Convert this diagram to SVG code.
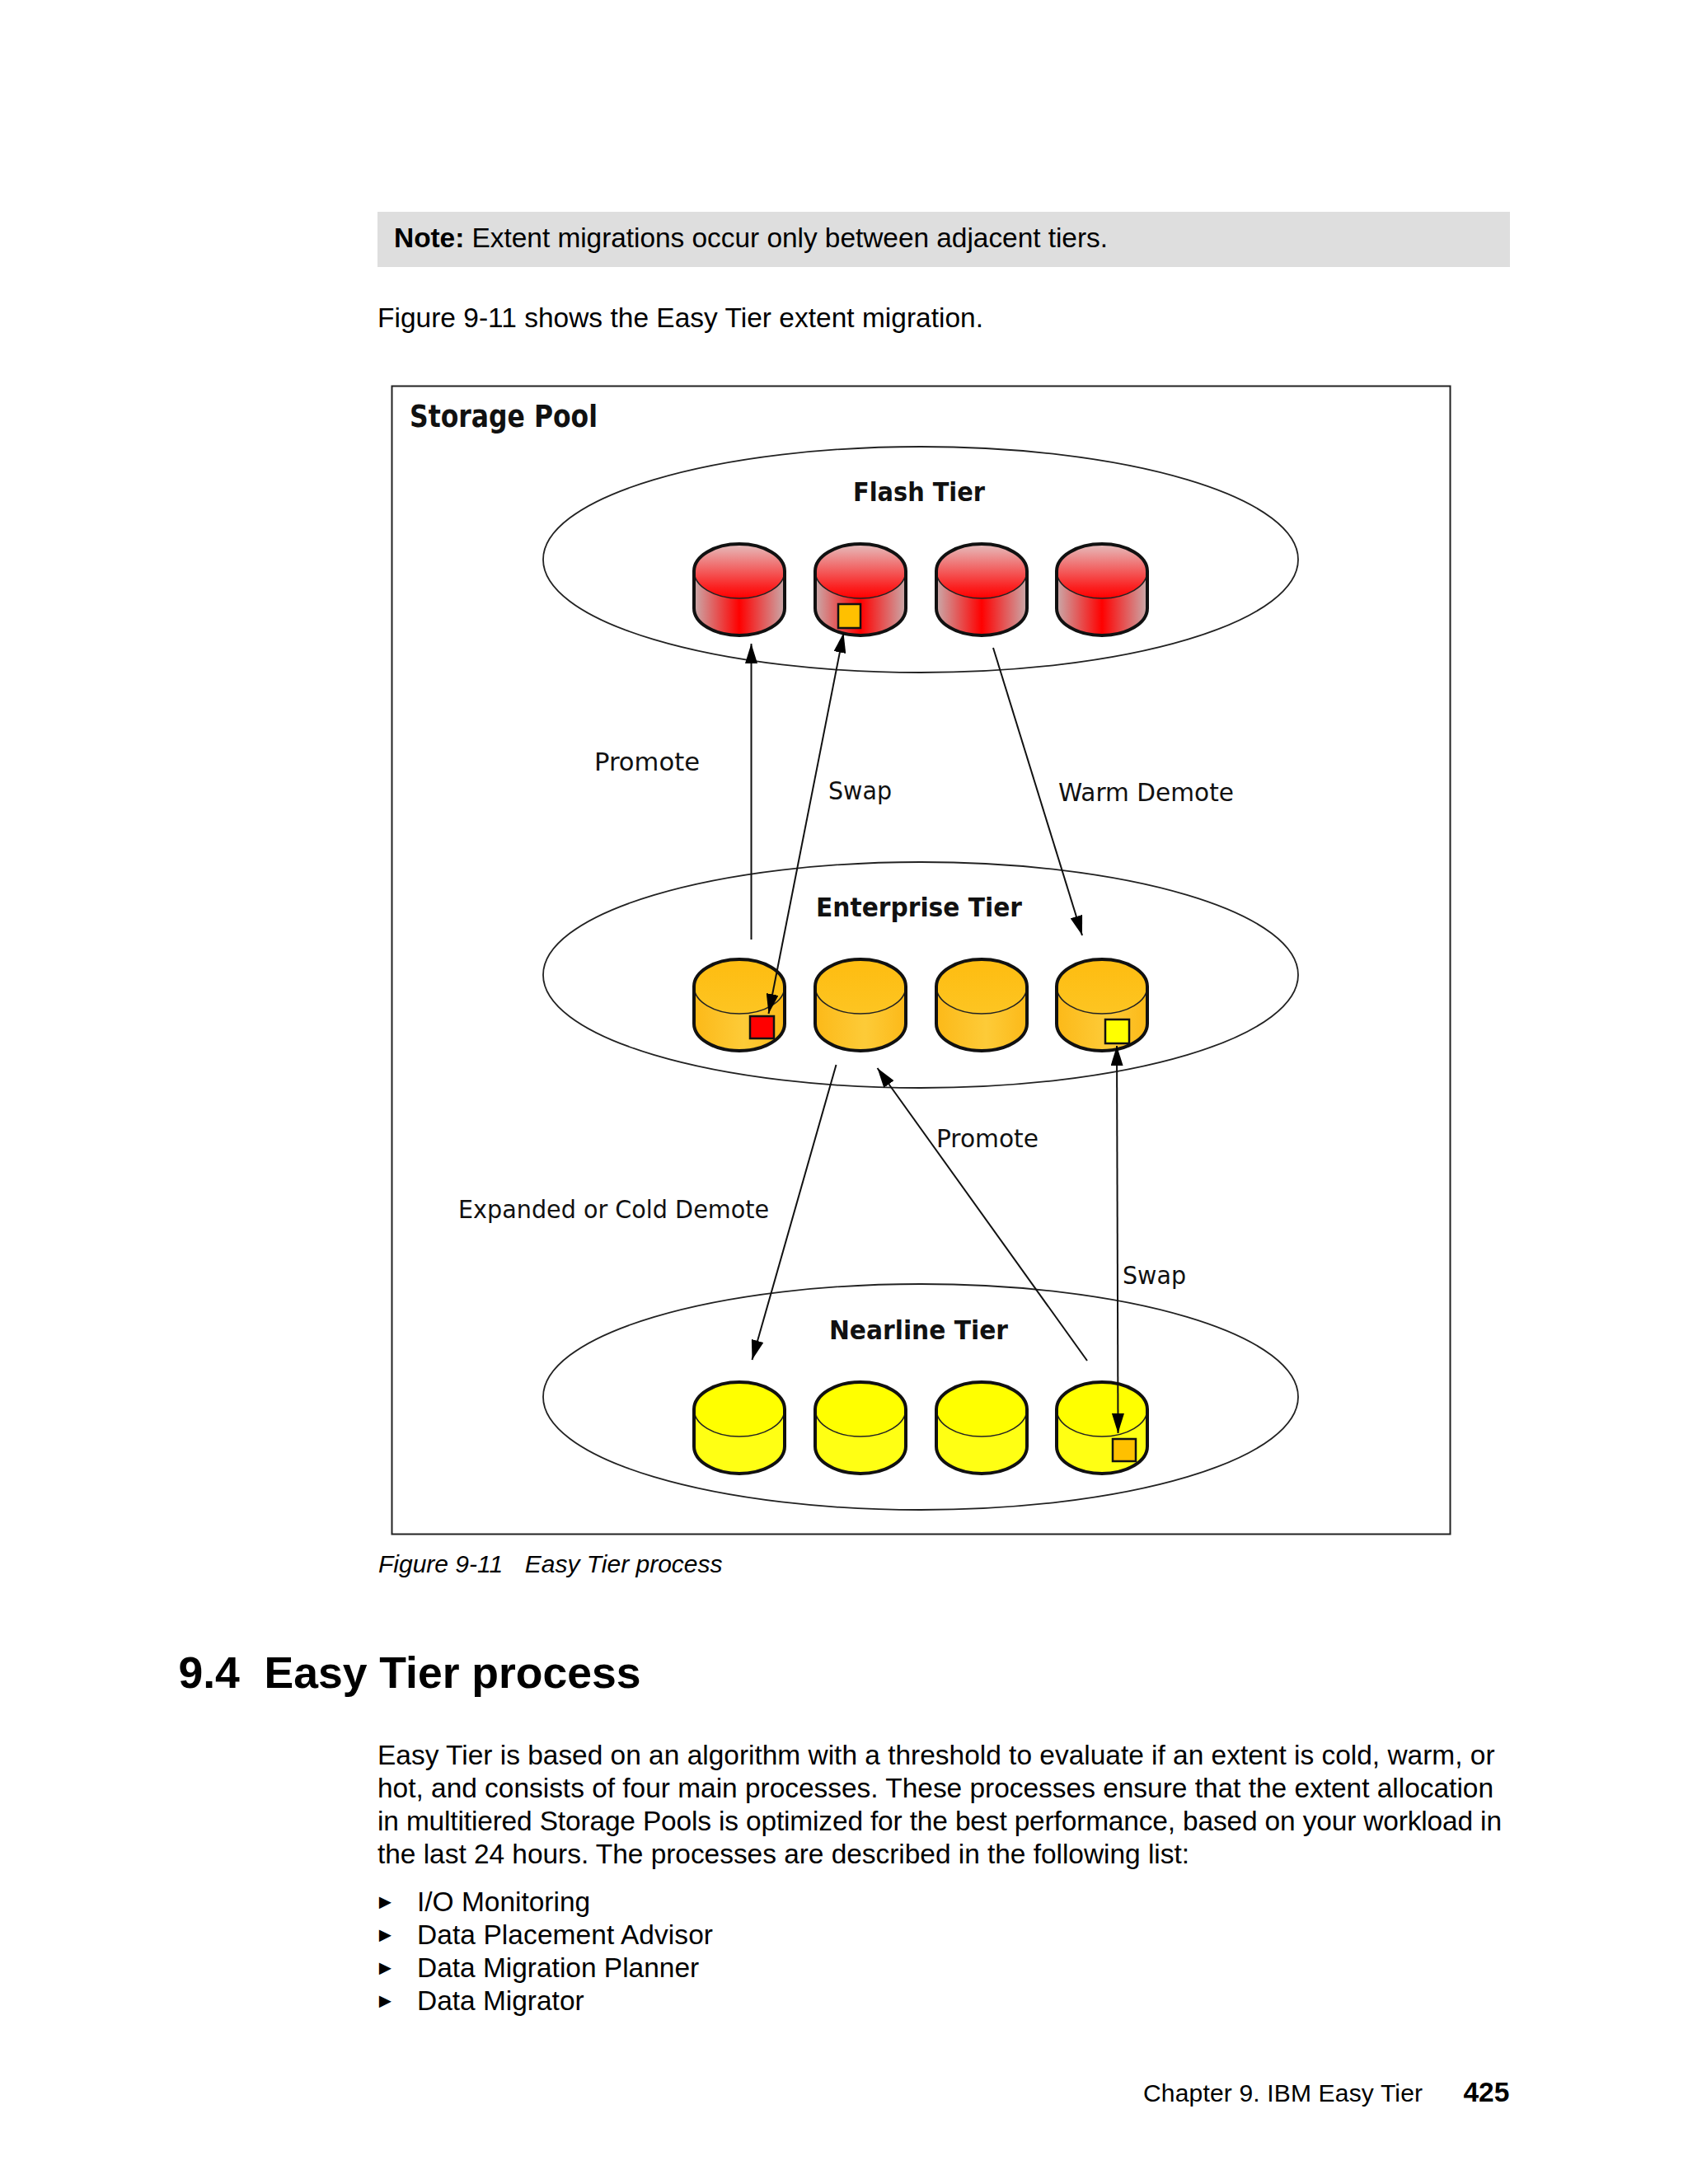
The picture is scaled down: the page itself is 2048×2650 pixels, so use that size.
<svg xmlns="http://www.w3.org/2000/svg" xmlns:xlink="http://www.w3.org/1999/xlink" width="2048" height="2650" viewBox="0 0 2048 2650">
<style>
text{font-family:"Liberation Sans",Arial,sans-serif;fill:#000;white-space:pre}
.b{font-size:33.46px}
.h{font-size:53.5px;font-weight:700}
.l{font-family:"DejaVu Sans",Verdana,sans-serif;font-size:30px;fill:#111}
.t{font-family:"DejaVu Sans",Verdana,sans-serif;font-weight:700;font-size:32px;fill:#111}
.tier{fill:#fff;stroke:#222;stroke-width:1.8}
.o{fill:none;stroke:#111;stroke-width:4}
.e{stroke:#222;stroke-width:1.6}
.s{stroke:#111;stroke-width:2.5}
.m{font-size:25px}
</style>
<defs>
<marker id="ah" markerUnits="userSpaceOnUse" markerWidth="24" markerHeight="15" refX="24" refY="7.500" orient="auto-start-reverse" viewBox="0 0 24 15"><path d="M0 0L24 7.500L0 15z" fill="#000"/></marker>
<linearGradient id="rt" x1="0" y1="0" x2="0" y2="1"><stop offset="0" stop-color="#e5bebe"/><stop offset=".8" stop-color="#fb2020"/><stop offset="1" stop-color="#ff0000"/></linearGradient>
<linearGradient id="rs" x1="0" y1="0" x2="1" y2="0"><stop offset="0" stop-color="#c9aaaa"/><stop offset=".5" stop-color="#ff0000"/><stop offset="1" stop-color="#c9aaaa"/></linearGradient>
<linearGradient id="ot" x1="0" y1="0" x2="0" y2="1"><stop offset="0" stop-color="#febc10"/><stop offset="1" stop-color="#fdc522"/></linearGradient>
<linearGradient id="os" x1="0" y1="0" x2="1" y2="0"><stop offset="0" stop-color="#fcb918"/><stop offset=".55" stop-color="#fdcb38"/><stop offset="1" stop-color="#fcb918"/></linearGradient>
<g id="cyl-r"><path d="M-55 33V78A55 33 0 0 0 55 78V33z" fill="url(#rs)" stroke="none"/><ellipse cx="0" cy="33" rx="55" ry="33" fill="url(#rt)" class="e"/><path class="o" d="M-55 33V78A55 33 0 0 0 55 78V33A55 33 0 0 0-55 33z"/></g>
<g id="cyl-o"><path d="M-55 33V78A55 33 0 0 0 55 78V33z" fill="url(#os)" stroke="none"/><ellipse cx="0" cy="33" rx="55" ry="33" fill="url(#ot)" class="e"/><path class="o" d="M-55 33V78A55 33 0 0 0 55 78V33A55 33 0 0 0-55 33z"/></g>
<g id="cyl-y"><path d="M-55 33V78A55 33 0 0 0 55 78V33z" fill="#ffff14" stroke="none"/><ellipse cx="0" cy="33" rx="55" ry="33" fill="#ffff00" class="e"/><path class="o" d="M-55 33V78A55 33 0 0 0 55 78V33A55 33 0 0 0-55 33z"/></g>
</defs>
<rect width="2048" height="2650" fill="#fff"/>
<g id="note"><rect x="458" y="257" width="1374" height="67" fill="#dedede"/><text class="b" x="478" y="300" textLength="866"><tspan font-weight="700">Note:</tspan> Extent migrations occur only between adjacent tiers.</text></g>
<text class="b" x="458" y="397" textLength="735">Figure 9-11 shows the Easy Tier extent migration.</text>
<g id="storage-pool"><rect x="475.500" y="468.500" width="1284" height="1393" fill="#fff" stroke="#222" stroke-width="2"/><text class="t" style="font-size:38px" x="497" y="518" textLength="228" lengthAdjust="spacingAndGlyphs">Storage Pool</text></g>
<g id="flash-tier"><ellipse class="tier" cx="1117" cy="679" rx="458" ry="137"/><text class="t" x="1035" y="608" textLength="160" lengthAdjust="spacingAndGlyphs">Flash Tier</text>
<use xlink:href="#cyl-r" href="#cyl-r" x="897" y="660"/><use href="#cyl-r" xlink:href="#cyl-r" x="1044" y="660"/><use href="#cyl-r" xlink:href="#cyl-r" x="1191" y="660"/><use href="#cyl-r" xlink:href="#cyl-r" x="1337" y="660"/>
<rect class="s" x="1017" y="733" width="27" height="29" fill="#ffc000"/></g>
<g id="enterprise-tier"><ellipse class="tier" cx="1117" cy="1183" rx="458" ry="137"/><text class="t" x="990" y="1112" textLength="250" lengthAdjust="spacingAndGlyphs">Enterprise Tier</text>
<use href="#cyl-o" xlink:href="#cyl-o" x="897" y="1164"/><use href="#cyl-o" xlink:href="#cyl-o" x="1044" y="1164"/><use href="#cyl-o" xlink:href="#cyl-o" x="1191" y="1164"/><use href="#cyl-o" xlink:href="#cyl-o" x="1337" y="1164"/>
<rect class="s" x="910" y="1233" width="29" height="27" fill="#ff0000"/><rect class="s" x="1341" y="1237" width="29" height="29" fill="#ffff00"/></g>
<g id="nearline-tier"><ellipse class="tier" cx="1117" cy="1695" rx="458" ry="137"/><text class="t" x="1006" y="1625" textLength="217" lengthAdjust="spacingAndGlyphs">Nearline Tier</text>
<use href="#cyl-y" xlink:href="#cyl-y" x="897" y="1677"/><use href="#cyl-y" xlink:href="#cyl-y" x="1044" y="1677"/><use href="#cyl-y" xlink:href="#cyl-y" x="1191" y="1677"/><use href="#cyl-y" xlink:href="#cyl-y" x="1337" y="1677"/>
<rect class="s" x="1350" y="1746" width="28" height="27" fill="#ffc000"/></g>
<g id="connectors" fill="none" stroke="#111" stroke-width="2">
<path d="M911.500 1140V781" marker-end="url(#ah)"/>
<path d="M932.500 1230L1023.500 768" marker-start="url(#ah)" marker-end="url(#ah)"/>
<path d="M1205 786L1313 1135" marker-end="url(#ah)"/>
<path d="M1014.500 1292L912.500 1650" marker-end="url(#ah)"/>
<path d="M1319 1651L1064.500 1296" marker-end="url(#ah)"/>
<path d="M1355 1269L1356.500 1739" marker-start="url(#ah)" marker-end="url(#ah)"/>
</g>
<g id="labels">
<text class="l" x="721" y="935" textLength="128" lengthAdjust="spacingAndGlyphs">Promote</text>
<text class="l" x="1005" y="970" textLength="77" lengthAdjust="spacingAndGlyphs">Swap</text>
<text class="l" x="1284" y="972" textLength="213" lengthAdjust="spacingAndGlyphs">Warm Demote</text>
<text class="l" x="1136" y="1392" textLength="124" lengthAdjust="spacingAndGlyphs">Promote</text>
<text class="l" x="556" y="1478" textLength="377" lengthAdjust="spacingAndGlyphs">Expanded or Cold Demote</text>
<text class="l" x="1362" y="1558" textLength="77" lengthAdjust="spacingAndGlyphs">Swap</text>
</g>
<text x="459" y="1908" font-size="30px" font-style="italic">Figure 9-11<tspan dx="1.500">   Easy Tier process</tspan></text>
<text class="h" x="216.500" y="2048" textLength="561">9.4  Easy Tier process</text>
<g id="body">
<text class="b" x="458" y="2141">Easy Tier is based on an algorithm with a threshold to evaluate if an extent is cold, warm, or</text>
<text class="b" x="458" y="2181" textLength="1354">hot, and consists of four main processes. These processes ensure that the extent allocation</text>
<text class="b" x="458" y="2221" textLength="1364">in multitiered Storage Pools is optimized for the best performance, based on your workload in</text>
<text class="b" x="458" y="2261" textLength="985">the last 24 hours. The processes are described in the following list:</text>
<text class="m" x="455" y="2316">►</text><text class="b" x="506" y="2319">I/O Monitoring</text>
<text class="m" x="455" y="2356">►</text><text class="b" x="506" y="2359" textLength="359">Data Placement Advisor</text>
<text class="m" x="455" y="2396">►</text><text class="b" x="506" y="2399">Data Migration Planner</text>
<text class="m" x="455" y="2436">►</text><text class="b" x="506" y="2439">Data Migrator</text>
</g>
<text x="1387" y="2550" font-size="30px" textLength="339">Chapter 9. IBM Easy Tier</text>
<text x="1775.500" y="2550" font-size="33.46px" font-weight="700">425</text>
</svg>
